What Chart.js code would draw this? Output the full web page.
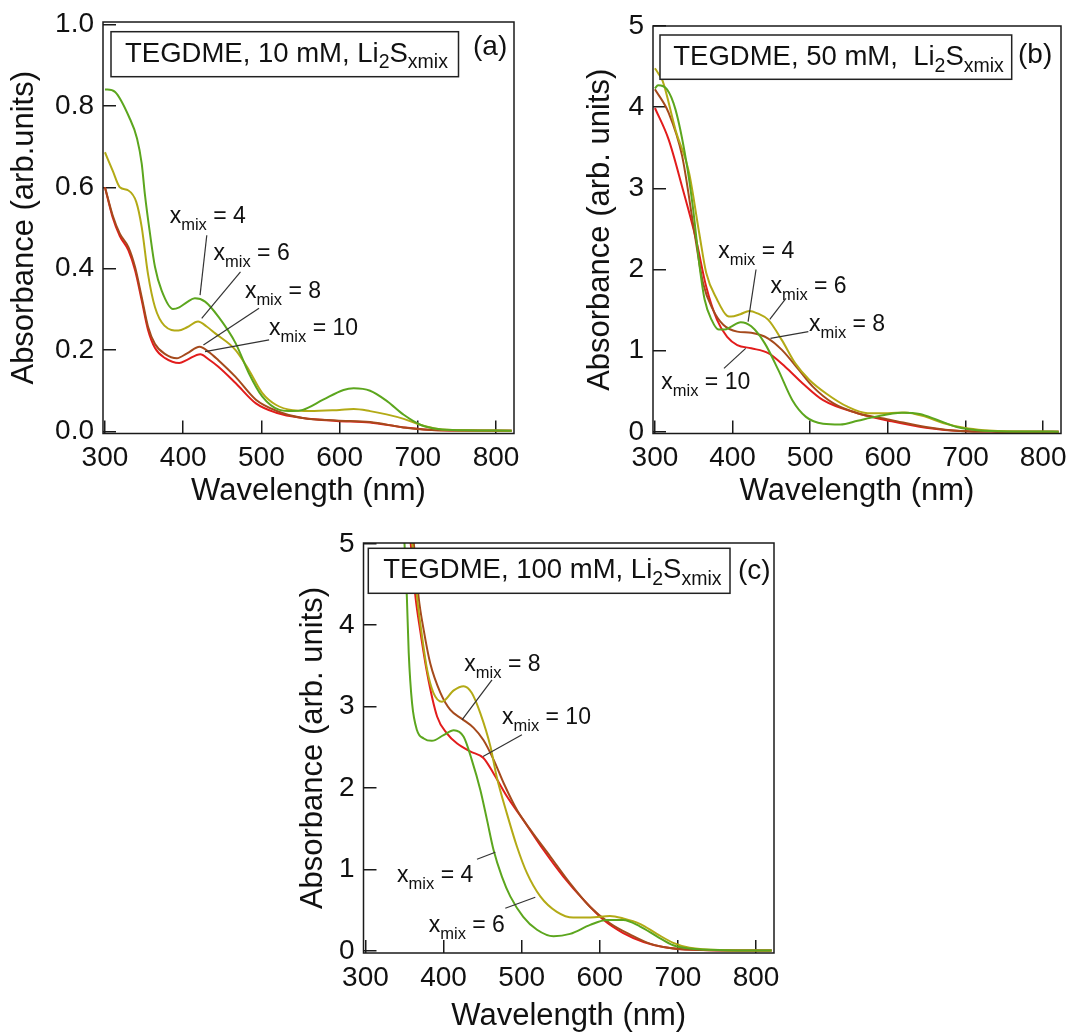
<!DOCTYPE html>
<html>
<head>
<meta charset="utf-8">
<script src="https://cdn.jsdelivr.net/npm/chart.js@4.4.1/dist/chart.umd.min.js"></script>
<style>
html,body{margin:0;padding:0;background:#fff;}
#page{position:relative;width:1070px;height:1032px;overflow:hidden;background:#fff;}
.panel{position:absolute;}
</style>
</head>
<body>
<div id="page">
  <div class="panel" style="left:0;top:0;width:540px;height:520px"><canvas id="ca"></canvas></div>
  <div class="panel" style="left:540px;top:0;width:530px;height:520px"><canvas id="cb"></canvas></div>
  <div class="panel" style="left:280px;top:520px;width:520px;height:512px"><canvas id="cc"></canvas></div>
</div>
<script>
// ---------------- DATA ----------------
const seriesLabels = ['x_mix = 4', 'x_mix = 6', 'x_mix = 8', 'x_mix = 10'];
const xTicks = [300, 400, 500, 600, 700, 800];
const yTicksA = [0, 0.2, 0.4, 0.6, 0.8, 1.0];
const yTicksBC = [0, 1, 2, 3, 4, 5];

// Panel (a): TEGDME, 10 mM
const aWl4  = [300,303,313,331,341,347,351,357.6,364,372.5,387,395,405,415,428,445,467,484,501,523,540,553,579,605,618,639,661,682,704,726,760,820];
const aAbs4 = [0.84,0.84,0.834,0.772,0.72,0.658,0.584,0.486,0.404,0.346,0.301,0.305,0.318,0.327,0.319,0.282,0.217,0.143,0.086,0.053,0.05,0.053,0.078,0.102,0.106,0.1,0.074,0.041,0.016,0.006,0.003,0.002];
const aWl6  = [300,310,319,330,340,347,355,364,376,394,405,419,430,441,467,484,501,519,540,562,600,618,639,660,682,704,726,760,820];
const aAbs6 = [0.686,0.64,0.6,0.592,0.564,0.502,0.387,0.305,0.26,0.248,0.256,0.27,0.258,0.241,0.2,0.151,0.095,0.065,0.052,0.05,0.053,0.055,0.05,0.042,0.031,0.016,0.006,0.003,0.002];
const aWl8  = [300,310,319,330,338.5,347,355,364,377,392,405,421,433,445,467,493,519,553,596,639,682,726,820];
const aAbs8 = [0.6,0.53,0.486,0.453,0.404,0.33,0.258,0.215,0.19,0.18,0.192,0.208,0.195,0.175,0.134,0.078,0.051,0.033,0.027,0.023,0.01,0.003,0.002];
const aWl10  = [300,310,319,330,338.5,347,355,364,377,395,405,422,432,445,467,493,519,553,596,639,682,726,820];
const aAbs10 = [0.6,0.525,0.48,0.445,0.396,0.322,0.25,0.205,0.18,0.168,0.176,0.19,0.178,0.159,0.119,0.069,0.046,0.033,0.026,0.022,0.01,0.003,0.002];

// Panel (b): TEGDME, 50 mM
const bWl4  = [300,304,315.5,326.5,340,348.7,357.5,364,373,382,390,397,410.5,424,441.5,459,477,494.5,516.6,538.7,561,583,618,641,663,689,715,760,820];
const bAbs4 = [4.23,4.27,4.22,3.97,3.35,2.78,2.04,1.63,1.38,1.26,1.26,1.29,1.35,1.3,1.09,0.76,0.39,0.185,0.1,0.09,0.136,0.185,0.235,0.22,0.15,0.06,0.02,0.005,0.003];
const bWl6  = [300,304,310,326.5,344,357,366,380,393,398,410,421.6,432,446,463.5,481,499,521,548,574,600,622,649,671,698,724,760,820];
const bAbs6 = [4.48,4.42,4.32,3.72,3.19,2.45,1.96,1.63,1.43,1.42,1.45,1.49,1.46,1.38,1.13,0.84,0.64,0.47,0.31,0.23,0.23,0.24,0.185,0.11,0.05,0.02,0.005,0.003];
const bWl8  = [300,317.7,335,351,362,375,388,406,424,446,463.5,485.7,503,530,561,605,649,693,740,820];
const bAbs8 = [4.22,3.93,3.4,2.45,1.83,1.5,1.32,1.235,1.22,1.15,1.01,0.76,0.56,0.35,0.23,0.145,0.06,0.01,0.003,0.002];
const bWl10  = [300,317.7,335,353,366,380,393,406,424,446,468,490,516.6,561,605,649,693,740,820];
const bAbs10 = [3.99,3.6,3.02,2.37,1.79,1.38,1.17,1.07,1.03,0.97,0.8,0.6,0.39,0.23,0.13,0.05,0.01,0.003,0.002];

// Panel (c): TEGDME, 100 mM
const cWl4  = [347,350,353,355.4,359.7,366,374.6,385,400,413,425.7,436,447,455.6,464,474.8,485.4,502,519.6,540.8,562,587.7,609,630,651.7,673,694,715,760,820];
const cAbs4 = [5.4,5.0,4.35,3.66,3.04,2.71,2.61,2.58,2.65,2.71,2.63,2.35,1.98,1.61,1.24,0.91,0.67,0.42,0.26,0.18,0.21,0.32,0.38,0.38,0.3,0.18,0.07,0.03,0.01,0.005];
const cWl6  = [356,360,366,372.5,379,387,398,413,425.7,436,447,460,468,481,494,506.8,523.8,545,566,588,613,630,652,673,694,715,760,820];
const cAbs6 = [5.4,5.0,4.35,3.86,3.45,3.17,3.06,3.2,3.25,3.17,2.92,2.51,2.14,1.69,1.28,0.955,0.67,0.48,0.41,0.41,0.43,0.4,0.33,0.21,0.1,0.04,0.01,0.005];
const cWl8  = [358,362,368,374.6,383,396,408.7,423.6,438.5,451,464,477,494,511,536.6,562,587.7,613,639,664,694,740,820];
const cAbs8 = [5.4,5.0,4.35,3.94,3.53,3.17,2.96,2.85,2.74,2.59,2.35,2.06,1.73,1.49,1.16,0.83,0.54,0.34,0.2,0.09,0.03,0.01,0.005];
const cWl10  = [354,358,364,370,379,391.7,404.5,417,434,451,464,481,502,528,553.6,579,605,630,656,681,720,820];
const cAbs10 = [5.4,5.0,4.35,3.94,3.41,2.88,2.67,2.55,2.45,2.37,2.18,1.9,1.61,1.24,0.91,0.63,0.38,0.22,0.11,0.05,0.015,0.005];

// ---------------- STYLE ----------------
const FONT = '"Liberation Sans", Arial, Helvetica, sans-serif';
const colors = ['#5ca61e', '#b3aa16', '#a54a1c', '#e21c1c'];
const X_MIN = 297.5, X_MAX = 823;

function series(wl, ab, i) {
  return {
    label: seriesLabels[i],
    data: wl.map((w, k) => ({x: w, y: ab[k]})),
    borderColor: colors[i], backgroundColor: colors[i],
    borderWidth: 2, pointRadius: 0, fill: false,
    cubicInterpolationMode: 'monotone'
  };
}

function richText(ctx, x, y, parts) {
  let cx = x;
  for (const p of parts) {
    ctx.font = p.size + 'px ' + FONT;
    ctx.fillText(p.t, cx, y + (p.dy || 0));
    cx += ctx.measureText(p.t).width;
  }
}

const decoPlugin = {
  id: 'deco',
  afterDatasetsDraw(chart, args, o) {
    const ctx = chart.ctx, ca = chart.chartArea, xs = chart.scales.x, ys = chart.scales.y;
    ctx.save();
    ctx.strokeStyle = '#1a1a1a'; ctx.lineWidth = 1.5;
    ctx.strokeRect(ca.left, ca.top, ca.right - ca.left, ca.bottom - ca.top);
    const h = o.header;
    const bx = ca.left + h.dx, by = ca.top + h.dy;
    ctx.fillStyle = '#fff'; ctx.fillRect(bx, by, h.w, h.h);
    ctx.strokeStyle = '#222'; ctx.lineWidth = 1.5; ctx.strokeRect(bx, by, h.w, h.h);
    ctx.fillStyle = '#111'; ctx.textBaseline = 'alphabetic'; ctx.textAlign = 'left';
    richText(ctx, ca.left + h.tx, ca.top + h.ty, [
      {t: h.main, size: 27.5}, {t: '2', size: 19.5, dy: 6.5},
      {t: 'S', size: 27.5}, {t: 'xmix', size: 19.5, dy: 6.5}]);
    ctx.font = '28px ' + FONT;
    ctx.fillText(h.letter, ca.left + h.lx, ca.top + h.ly);
    ctx.strokeStyle = '#333'; ctx.lineWidth = 1.2;
    for (const a of o.notes) {
      ctx.beginPath();
      ctx.moveTo(xs.getPixelForValue(a.l[0]), ys.getPixelForValue(a.l[1]));
      ctx.lineTo(xs.getPixelForValue(a.l[2]), ys.getPixelForValue(a.l[3]));
      ctx.stroke();
      richText(ctx, xs.getPixelForValue(a.tx), ys.getPixelForValue(a.ty), [
        {t: 'x', size: 23}, {t: 'mix', size: 16.5, dy: 7}, {t: ' = ' + a.lbl, size: 23}]);
    }
    ctx.restore();
  }
};

function makeChart(id, cfg) {
  const tickGrid = {display: true, drawOnChartArea: false, drawTicks: true, tickLength: -13,
                    color: '#1a1a1a', lineWidth: 1.5};
  return new Chart(document.getElementById(id), {
    type: 'line',
    data: {datasets: cfg.datasets},
    options: {
      responsive: true, maintainAspectRatio: false, animation: false,
      layout: {padding: cfg.pad, autoPadding: false},
      plugins: {legend: {display: false}, tooltip: {enabled: false}, deco: cfg.deco},
      scales: {
        x: {
          type: 'linear', min: X_MIN, max: X_MAX,
          afterBuildTicks: s => { s.ticks = xTicks.map(v => ({value: v})); },
          afterFit: s => { s.height = cfg.xH; s.paddingLeft = 0; s.paddingRight = 0; },
          grid: tickGrid, border: {display: false},
          ticks: {padding: 24, color: '#111', autoSkip: false, maxRotation: 0,
                  font: {family: FONT, size: 28, lineHeight: 1}, callback: v => String(v)},
          title: {display: true, text: 'Wavelength (nm)', color: '#111',
                  font: {family: FONT, size: 31, lineHeight: 1}, padding: {top: 0, bottom: cfg.xtPad}}
        },
        y: {
          type: 'linear', min: cfg.yMin, max: cfg.yMax,
          afterBuildTicks: s => { s.ticks = cfg.yTicks.map(v => ({value: v})); },
          afterFit: s => { s.width = cfg.yW; s.paddingTop = 0; s.paddingBottom = 0; },
          grid: tickGrid, border: {display: false},
          ticks: {padding: 22, color: '#111', autoSkip: false,
                  font: {family: FONT, size: 28, lineHeight: 1}, callback: cfg.yFmt},
          title: {display: true, text: cfg.yTitle, color: '#111',
                  font: {family: FONT, size: 31, lineHeight: 1}, padding: {top: cfg.ytPad, bottom: 0}}
        }
      }
    },
    plugins: [decoPlugin]
  });
}

makeChart('ca', {
  datasets: [series(aWl4, aAbs4, 0), series(aWl6, aAbs6, 1), series(aWl8, aAbs8, 2), series(aWl10, aAbs10, 3)],
  pad: {left: 0, top: 22, right: 26, bottom: 0}, yW: 103, xH: 86.5, xtPad: 13, ytPad: 8.5,
  yMin: -0.005, yMax: 1.006, yTicks: yTicksA, yFmt: v => Number(v).toFixed(1),
  yTitle: 'Absorbance (arb.units)',
  deco: {
    header: {main: 'TEGDME, 10 mM, Li', dx: 8, dy: 9.7, w: 347.5, h: 45, tx: 22, ty: 39.7, letter: '(a)', lx: 370, ly: 33},
    notes: [
      {lbl: '4', tx: 382.8, ty: 0.511, l: [430.2, 0.482, 421.6, 0.335]},
      {lbl: '6', tx: 438.8, ty: 0.421, l: [473.3, 0.392, 423.7, 0.278]},
      {lbl: '8', tx: 478.9, ty: 0.329, l: [497, 0.303, 425.9, 0.2126]},
      {lbl: '10', tx: 509.9, ty: 0.237, l: [509.9, 0.225, 428, 0.196]}
    ]
  }
});

makeChart('cb', {
  datasets: [series(bWl4, bAbs4, 0), series(bWl6, bAbs6, 1), series(bWl8, bAbs8, 2), series(bWl10, bAbs10, 3)],
  pad: {left: 0, top: 26, right: 9, bottom: 0}, yW: 113, xH: 86.5, xtPad: 13.5, ytPad: 44.5,
  yMin: -0.02, yMax: 5.0, yTicks: yTicksBC, yFmt: v => String(v),
  yTitle: 'Absorbance (arb. units)',
  deco: {
    header: {main: 'TEGDME, 50 mM,  Li', dx: 7, dy: 9, w: 351.7, h: 44.3, tx: 20.3, ty: 39, letter: '(b)', lx: 365, ly: 37},
    notes: [
      {lbl: '4', tx: 381.4, ty: 2.14, l: [430.2, 2.0, 420, 1.358]},
      {lbl: '6', tx: 448.8, ty: 1.708, l: [468.7, 1.646, 447.9, 1.387]},
      {lbl: '8', tx: 498.4, ty: 1.243, l: [497.6, 1.235, 448.8, 1.152]},
      {lbl: '10', tx: 308.2, ty: 0.523, l: [388.9, 0.782, 416.9, 1.029]}
    ]
  }
});

makeChart('cc', {
  datasets: [series(cWl4, cAbs4, 0), series(cWl6, cAbs6, 1), series(cWl8, cAbs8, 2), series(cWl10, cAbs10, 3)],
  pad: {left: 0, top: 23, right: 26, bottom: 0}, yW: 83.5, xH: 79, xtPad: 0.5, ytPad: 17.5,
  yMin: -0.025, yMax: 5.01, yTicks: yTicksBC, yFmt: v => String(v),
  yTitle: 'Absorbance (arb. units)',
  deco: {
    header: {main: 'TEGDME, 100 mM, Li', dx: 4.8, dy: 5.3, w: 361.7, h: 45, tx: 19.8, ty: 35.3, letter: '(c)', lx: 374.5, ly: 36},
    notes: [
      {lbl: '8', tx: 426.6, ty: 3.444, l: [462, 3.329, 423.6, 2.838]},
      {lbl: '10', tx: 474.8, ty: 2.789, l: [500.3, 2.654, 450.5, 2.387]},
      {lbl: '4', tx: 340.5, ty: 0.852, l: [442.8, 1.126, 466.2, 1.212]},
      {lbl: '6', tx: 381, ty: 0.2375, l: [479, 0.524, 517.4, 0.659]}
    ]
  }
});
</script>
</body>
</html>
